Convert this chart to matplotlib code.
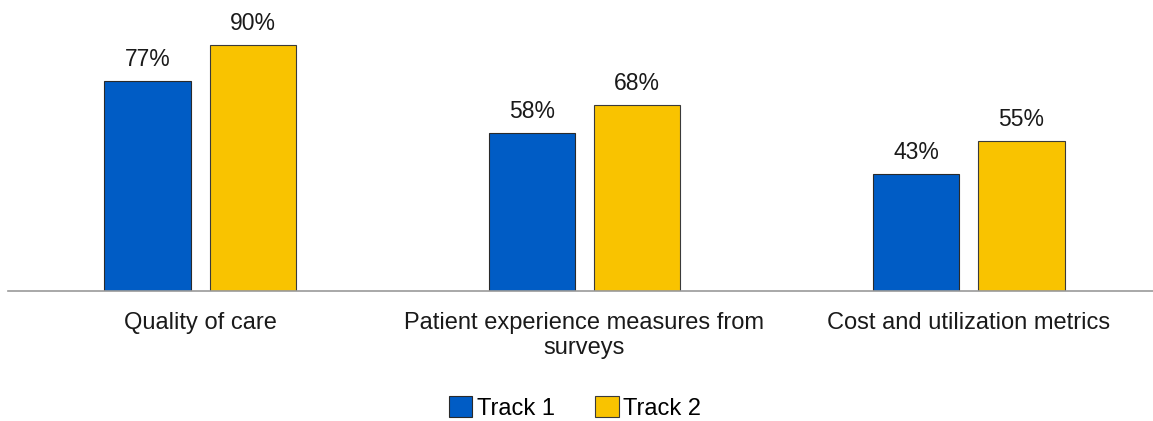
import numpy as np
import matplotlib.pyplot as plt

plt.rcParams["font.family"] = ["Liberation Sans", "DejaVu Sans"]

categories = ["Quality of care", "Patient experience measures from\nsurveys", "Cost and utilization metrics"]
track1 = [77, 58, 43]
track2 = [90, 68, 55]
series_names = ["Track 1", "Track 2"]

BLUE = "#005CC5"
YELLOW = "#F9C300"

fig = plt.figure(figsize=(11.53, 4.21), dpi=100)
ax = fig.add_axes([8 / 1153, 130 / 421, 1.0, 291 / 421])

x = np.arange(len(categories))
w = 0.224
off = 0.137
b1 = ax.bar(x - off, track1, w, color=BLUE, edgecolor="#2a2a2a", linewidth=0.8, label=series_names[0])
b2 = ax.bar(x + off, track2, w, color=YELLOW, edgecolor="#3a3a3a", linewidth=0.8, label=series_names[1])

for bars, vals in [(b1, track1), (b2, track2)]:
    for r, v in zip(bars, vals):
        ax.annotate(f"{v}%", (r.get_x() + r.get_width() / 2, v), xytext=(0, 7),
                    textcoords="offset points", ha="center", va="bottom", fontsize=16.5, color="#1a1a1a")

ax.set_xlim(-0.5, 2.5)
ax.set_ylim(0, 106.5)
ax.set_yticks([])
ax.set_xticks(x)
ax.set_xticklabels(categories, fontsize=17, color="#1a1a1a", linespacing=1.2)
ax.tick_params(axis="x", length=0, pad=15)
for s in ["top", "right", "left"]:
    ax.spines[s].set_visible(False)
ax.spines["bottom"].set_color("#9a9a9a")
ax.spines["bottom"].set_linewidth(1.2)

fig.legend(handles=[b1, b2], loc="center", bbox_to_anchor=(575 / 1153, 13 / 421), ncol=2,
           frameon=False, fontsize=17, handlelength=1.0, handleheight=1.0,
           handletextpad=0.2, columnspacing=1.7)

fig.savefig("out.png", dpi=100)
